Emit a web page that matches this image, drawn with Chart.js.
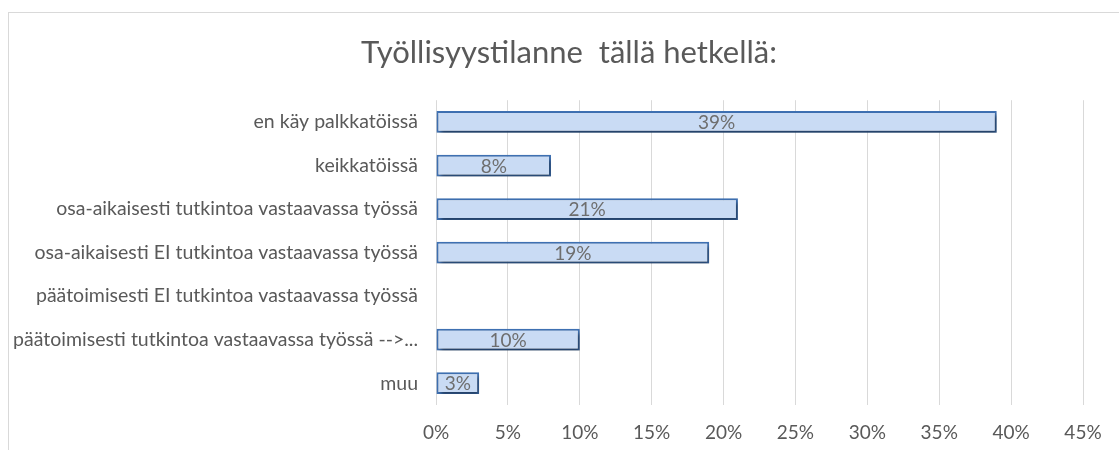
<!DOCTYPE html>
<html>
<head>
<meta charset="utf-8">
<script src="https://cdn.jsdelivr.net/npm/chart.js@4"></script>
<style>
  body { margin: 0; background: #fff; overflow: hidden; }
  #frame {
    position: absolute; left: 8px; top: 12px; width: 1121px; height: 438px;
    border-top: 1px solid #d9d9d9; border-left: 1px solid #d9d9d9;
  }
  #myChart { display: block; }
</style>
</head>
<body>
<div id="frame"><canvas id="myChart" width="1120" height="437"></canvas></div>
<script>
// chart data
const title = 'Työllisyystilanne  tällä hetkellä:';
const categories = [
  'en käy palkkatöissä',
  'keikkatöissä',
  'osa-aikaisesti tutkintoa vastaavassa työssä',
  'osa-aikaisesti EI tutkintoa vastaavassa työssä',
  'päätoimisesti EI tutkintoa vastaavassa työssä',
  'päätoimisesti tutkintoa vastaavassa työssä -->...',
  'muu'
];
const percents = [39, 8, 21, 19, 0, 10, 3];
const xTicks = [0, 5, 10, 15, 20, 25, 30, 35, 40, 45];

const fontFamily = 'Lato, "Open Sans", sans-serif';
const grey = '#595959';

// light blue gradient for the bars, top to bottom
function barFill(c) {
  const el = c.element;
  if (!c.chart.chartArea || !el) return '#c9dbf4';
  const y0 = el.y - el.height / 2, y1 = el.y + el.height / 2;
  if (!isFinite(y0) || y1 <= y0) return '#c9dbf4';
  const g = c.chart.ctx.createLinearGradient(0, y0, 0, y1);
  g.addColorStop(0, '#e6effc');
  g.addColorStop(1, '#b2cbf0');
  return g;
}

// soft shadow under the bars
const shadow = {
  id: 'shadow',
  beforeDatasetDraw(chart) {
    const ctx = chart.ctx;
    ctx.save();
    ctx.shadowColor = 'rgba(0,0,0,0.45)';
    ctx.shadowBlur = 4;
    ctx.shadowOffsetX = 2;
    ctx.shadowOffsetY = 3;
  },
  afterDatasetDraw(chart) {
    chart.ctx.restore();
  }
};

// value labels in the middle of each bar
const valueLabels = {
  id: 'valueLabels',
  afterDatasetsDraw(chart) {
    const ctx = chart.ctx;
    const meta = chart.getDatasetMeta(0);
    ctx.save();
    ctx.font = '19px ' + fontFamily;
    ctx.fillStyle = '#6e6e6e';
    ctx.textAlign = 'center';
    ctx.textBaseline = 'middle';
    meta.data.forEach((bar, i) => {
      const v = percents[i];
      if (!v) return;
      ctx.fillText(v + '%', (bar.base + bar.x) / 2, bar.y + 1);
    });
    ctx.restore();
  }
};

const ctx = document.getElementById('myChart').getContext('2d');
new Chart(ctx, {
  type: 'bar',
  data: {
    labels: categories,
    datasets: [{
      data: percents,
      backgroundColor: barFill,
      borderColor: '#3f71b3',
      borderWidth: 2,
      borderSkipped: false,
      barPercentage: 0.5,
      categoryPercentage: 1
    }]
  },
  options: {
    indexAxis: 'y',
    responsive: false,
    animation: false,
    layout: { padding: 0 },
    plugins: {
      legend: { display: false },
      tooltip: { enabled: false },
      title: {
        display: true,
        text: title,
        color: grey,
        font: { family: fontFamily, size: 31, weight: 'normal' },
        padding: { top: 21, bottom: 29 }
      }
    },
    scales: {
      x: {
        min: 0,
        max: 45,
        afterBuildTicks: s => { s.ticks = xTicks.map(v => ({ value: v })); },
        afterFit: s => { s.height = 45; },
        grid: { color: '#d9d9d9', lineWidth: 1, drawTicks: false },
        border: { display: false },
        ticks: {
          padding: 16,
          color: grey,
          font: { family: fontFamily, size: 19 },
          callback: v => v + '%'
        }
      },
      y: {
        afterFit: s => { s.width = 427; },
        grid: { display: false, drawTicks: false },
        border: { display: false },
        ticks: {
          padding: 18,
          color: grey,
          font: { family: fontFamily, size: 19.5 }
        }
      },
      // empty right-hand space so the title stays centred on the whole frame
      yRight: {
        type: 'category',
        position: 'right',
        afterFit: s => { s.width = 46; },
        grid: { display: false, drawTicks: false },
        border: { display: false },
        ticks: { display: false }
      }
    }
  },
  plugins: [shadow, valueLabels]
});
</script>
</body>
</html>
